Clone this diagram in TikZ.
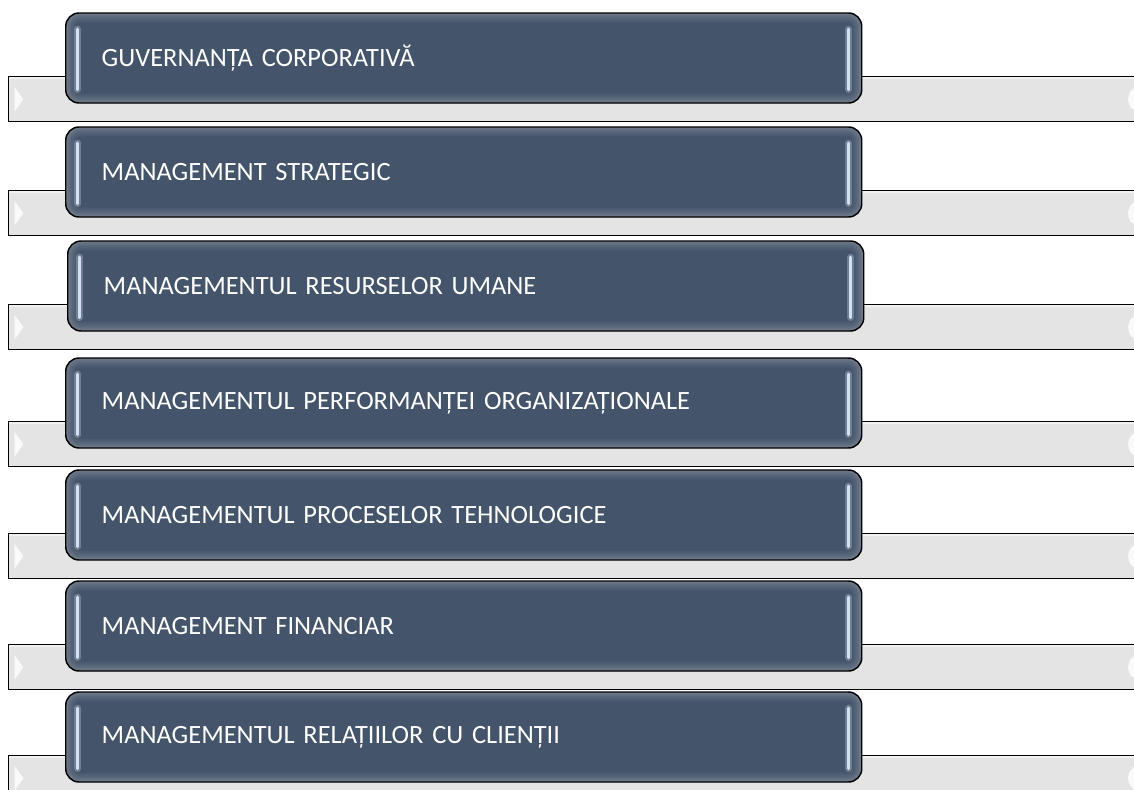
\documentclass[tikz,border=0pt]{standalone}
\usepackage{fontspec}
\setmainfont{Carlito}
\usepackage{tikz}
\usetikzlibrary{positioning}
\definecolor{boxblue}{HTML}{44546A}
\definecolor{bargray}{HTML}{E4E4E4}
\definecolor{glint}{HTML}{D3E0F2}

\begin{document}
\begin{tikzpicture}[x=0.75pt, y=-0.75pt,
    glint bar/.style={line cap=round, draw=glint},
    bar node/.style={rectangle, draw=black, line width=1.1pt, fill=bargray, anchor=north west, minimum width=850pt, minimum height=33.75pt, inner sep=0pt,
      path picture={
        \fill[white, opacity=.85] ([xshift=4.5pt,yshift=9pt]path picture bounding box.west) -- ([xshift=11pt]path picture bounding box.west) -- ([xshift=4.5pt,yshift=-9pt]path picture bounding box.west) -- cycle;
        \fill[white, opacity=.85] ([xshift=-3pt]path picture bounding box.east) ellipse (7.5pt and 9pt);
        \draw[white, opacity=.5, line width=3pt] (path picture bounding box.north west) -- (path picture bounding box.north east);
      }},
    title node/.style={rectangle, rounded corners=10pt, draw=black, line width=1.1pt, fill=boxblue, text=white, anchor=west, font=\fontsize{19.8pt}{24pt}\selectfont, minimum height=67.5pt, text width=543pt, inner xsep=27pt, align=left,
      path picture={
        \foreach \w in {14,11,8,6,4,2.5}
          \draw[white, opacity=.045, line width=\w pt, rounded corners=10pt] (path picture bounding box.south west) rectangle (path picture bounding box.north east);
        \draw[glint bar, line width=5pt, opacity=.3] ([xshift=9pt,yshift=-12pt]path picture bounding box.north west) -- ([xshift=9pt,yshift=10pt]path picture bounding box.south west);
        \draw[glint bar, line width=2pt] ([xshift=9pt,yshift=-12pt]path picture bounding box.north west) -- ([xshift=9pt,yshift=10pt]path picture bounding box.south west);
        \draw[glint bar, line width=5pt, opacity=.3] ([xshift=-9.75pt,yshift=-12pt]path picture bounding box.north east) -- ([xshift=-9.75pt,yshift=10pt]path picture bounding box.south east);
        \draw[glint bar, line width=2pt] ([xshift=-9.75pt,yshift=-12pt]path picture bounding box.north east) -- ([xshift=-9.75pt,yshift=10pt]path picture bounding box.south east);
      }}]
    \clip (0,0) rectangle (1134,789);

    \node[bar node] (B1) at (8,76) {};
    \node[bar node] (B2) at (8,190) {};
    \node[bar node] (B3) at (8,304) {};
    \node[bar node] (B4) at (8,421) {};
    \node[bar node] (B5) at (8,533) {};
    \node[bar node] (B6) at (8,644) {};
    \node[bar node] (B7) at (8,755) {};

    \node[title node] (T1) at (65,58) {GUVERNANȚA CORPORATIVĂ};
    \node[title node] (T2) at (65,172) {MANAGEMENT STRATEGIC};
    \node[title node] (T3) at (67,286) {MANAGEMENTUL RESURSELOR UMANE};
    \node[title node] (T4) at (65,403) {MANAGEMENTUL PERFORMANȚEI ORGANIZAȚIONALE};
    \node[title node] (T5) at (65,515) {MANAGEMENTUL PROCESELOR TEHNOLOGICE};
    \node[title node] (T6) at (65,626) {MANAGEMENT FINANCIAR};
    \node[title node] (T7) at (65,737) {MANAGEMENTUL RELAȚIILOR CU CLIENȚII};
\end{tikzpicture}
\end{document}
